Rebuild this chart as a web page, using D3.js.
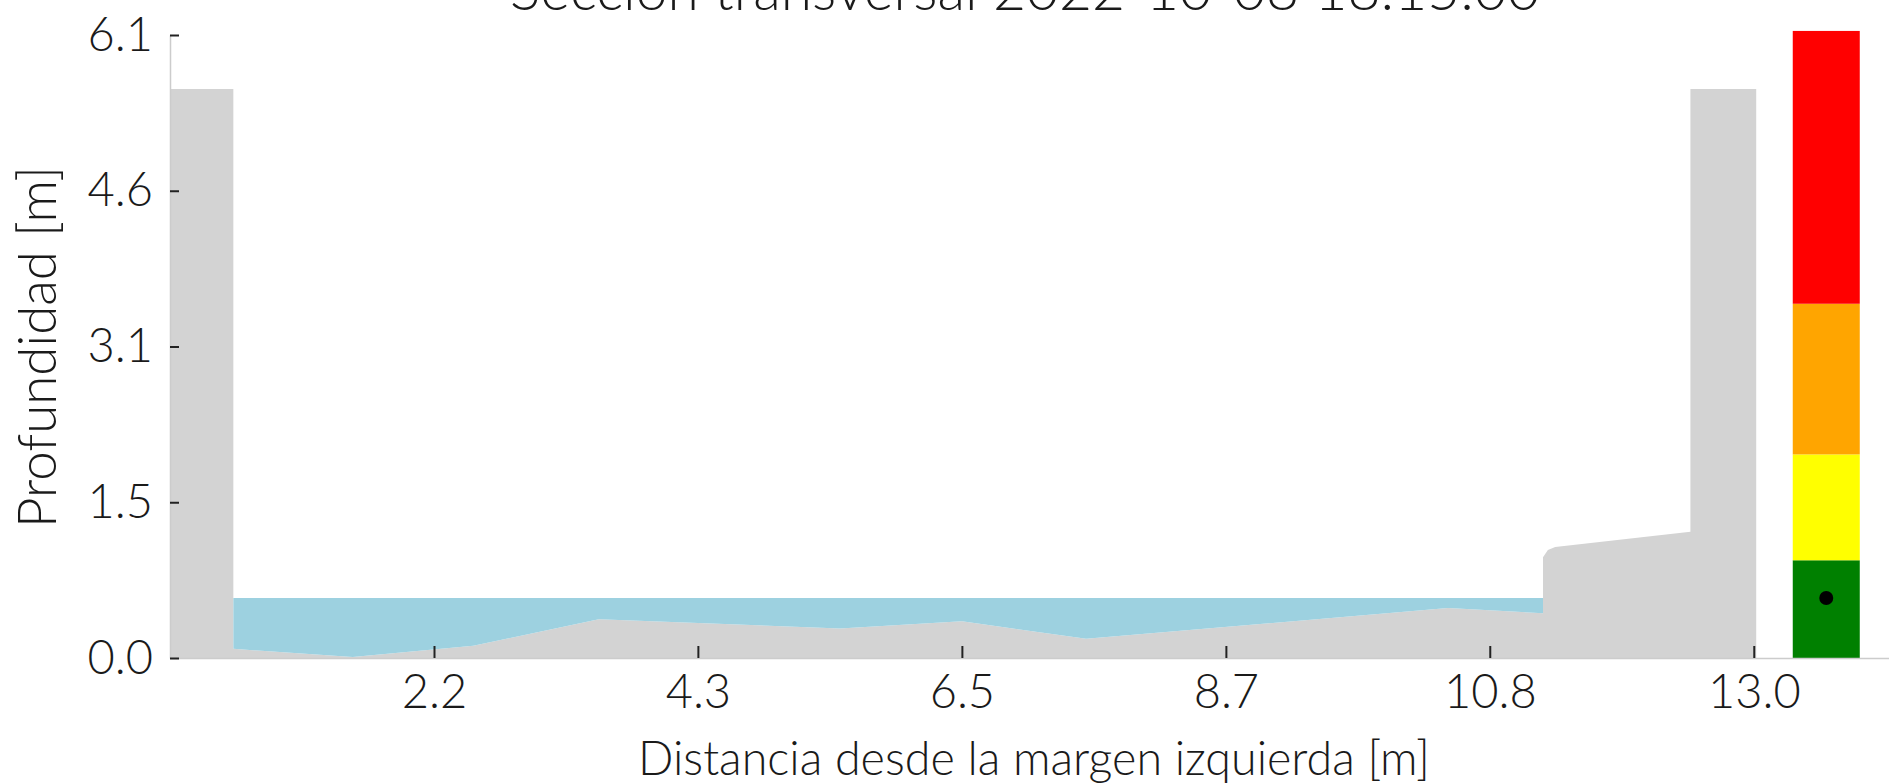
<!DOCTYPE html>
<html>
<head>
<meta charset="utf-8">
<script src="https://cdnjs.cloudflare.com/ajax/libs/d3/7.8.5/d3.min.js"></script>
<style>
  body { margin: 0; background: #fff; }
  text { font-family: Lato, "Open Sans", sans-serif; font-weight: 300; fill: #1a1a1a; }
</style>
</head>
<body>
<div id="chart"></div>
<script>
let w = 1889,
    h = 784;

let margin = {
  top: 35,
  bottom: 126,
  left: 170,
  right: 0
};

// outline of the channel (walls, bed and right terrace)
let terrainX = [0, 0, 0.52, 0.52, 1.50, 2.49, 3.52, 5.50, 6.50, 7.52, 10.49, 11.27, 11.27, 11.31, 11.37, 12.48, 12.48, 13.02, 13.02];
let terrainY = [0, 5.59, 5.59, 0.09, 0.01, 0.12, 0.38, 0.29, 0.36, 0.19, 0.49, 0.44, 0.99, 1.06, 1.09, 1.24, 5.59, 5.59, 0];

// bed points that are under water
let bedX = [0.52, 1.50, 2.49, 3.52, 5.50, 6.50, 7.52, 10.49, 11.27];
let bedY = [0.09, 0.01, 0.12, 0.38, 0.29, 0.36, 0.19, 0.49, 0.44];
let waterLevel = 0.59;

// alert bar on the right
let alertColors = ["green", "yellow", "orange", "red"];
let alertLimits = [0, 0.96, 2.0, 3.48, 6.16];
let alertX = [13.32, 13.87];

let xTicks = [2.167, 4.333, 6.5, 8.667, 10.833, 13.0];
let xTickLabels = ["2.2", "4.3", "6.5", "8.7", "10.8", "13.0"];
let yTicks = [0, 1.53, 3.06, 4.59, 6.12];
let yTickLabels = ["0.0", "1.5", "3.1", "4.6", "6.1"];

let xMax = 14.11,
    yMax = 6.12;

let x = d3.scaleLinear()
          .domain([0, xMax])
          .range([margin.left, w - margin.right]);

let y = d3.scaleLinear()
          .domain([0, yMax])
          .range([h - margin.bottom, margin.top]);

let svg = d3.select("#chart")
            .append("svg")
            .attr("width", w)
            .attr("height", h);

// terrain
let terrain = terrainX.map((d, i) => [d, terrainY[i]]);
svg.append("path")
   .attr("d", d3.line().x(d => x(d[0])).y(d => y(d[1]))(terrain) + "Z")
   .attr("fill", "#d3d3d3");

// water between bed and level
let bed = bedX.map((d, i) => [d, bedY[i]]);
svg.append("path")
   .attr("d", d3.area()
                .x(d => x(d[0]))
                .y0(d => y(d[1]))
                .y1(y(waterLevel))(bed))
   .attr("fill", "#9dd1e0");

// alert bar
svg.selectAll(".alert")
   .data(alertColors)
   .enter()
   .append("rect")
   .attr("class", "alert")
   .attr("x", x(alertX[0]))
   .attr("width", x(alertX[1]) - x(alertX[0]))
   .attr("y", (d, i) => y(alertLimits[i + 1]))
   .attr("height", (d, i) => y(alertLimits[i]) - y(alertLimits[i + 1]))
   .attr("fill", d => d);

svg.append("circle")
   .attr("cx", x((alertX[0] + alertX[1]) / 2))
   .attr("cy", y(waterLevel))
   .attr("r", 7)
   .attr("fill", "black");

// axes
let xAxis = svg.append("g")
               .attr("transform", "translate(0," + y(0) + ")")
               .call(d3.axisBottom(x)
                       .tickValues(xTicks)
                       .tickFormat((d, i) => xTickLabels[i])
                       .tickSize(-12)
                       .tickSizeOuter(0)
                       .tickPadding(17));

let yAxis = svg.append("g")
               .attr("transform", "translate(" + x(0) + ",0)")
               .call(d3.axisLeft(y)
                       .tickValues(yTicks)
                       .tickFormat((d, i) => yTickLabels[i])
                       .tickSize(-9)
                       .tickSizeOuter(0)
                       .tickPadding(17));

[xAxis, yAxis].forEach(a => {
  a.select(".domain").attr("stroke", "#cccccc").attr("stroke-width", 1.5);
  a.selectAll(".tick line").attr("stroke", "#222").attr("stroke-width", 2);
  a.selectAll(".tick text")
   .attr("fill", "#1a1a1a")
   .style("font-size", "47px")
   .style("font-weight", 300)
   .style("font-family", "Lato, sans-serif");
});

function fitText(sel, target) {
  let len = sel.node().getComputedTextLength();
  sel.style("font-size", (100 * target / len) + "px");
}

let title = svg.append("text")
               .attr("x", 1025)
               .attr("y", 10)
               .attr("text-anchor", "middle")
               .style("font-size", "100px")
               .text("Sección transversal 2022-10-08 18:15:00");
fitText(title, 1030);

let xLabel = svg.append("text")
                .attr("x", 1034)
                .attr("y", 775)
                .attr("text-anchor", "middle")
                .style("font-size", "100px")
                .text("Distancia desde la margen izquierda [m]");
fitText(xLabel, 792);

let yLabel = svg.append("text")
                .attr("transform", "translate(56,347) rotate(-90)")
                .attr("text-anchor", "middle")
                .style("font-size", "100px")
                .text("Profundidad [m]");
fitText(yLabel, 362);
</script>
</body>
</html>
